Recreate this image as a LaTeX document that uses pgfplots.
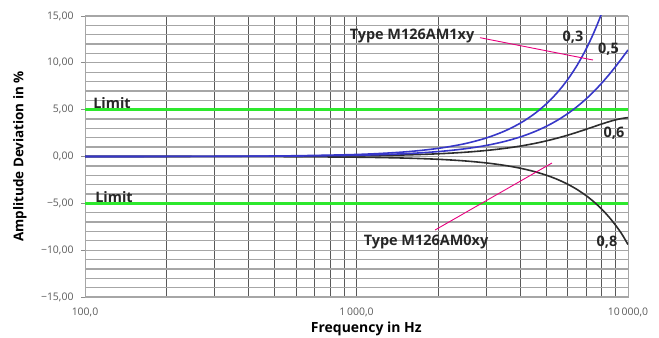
\documentclass[border=0pt]{standalone}
\usepackage{pgfplots}
\pgfplotsset{compat=1.18}
\usepackage{fontspec}
\setmainfont{Open Sans}
\definecolor{limgreen}{RGB}{45,232,45}
\definecolor{cblue}{RGB}{55,55,200}
\definecolor{cblack}{RGB}{45,45,45}
\definecolor{cpink}{RGB}{232,0,126}
\definecolor{tickgray}{RGB}{90,90,90}
\begin{document}
\begin{tikzpicture}
\path[use as bounding box] (0,0) rectangle (659bp,338bp);
\begin{axis}[
  at={(85bp,41bp)}, anchor=south west,
  width=543bp, height=281bp, scale only axis,
  xmode=log, xmin=100, xmax=10000, ymin=-15, ymax=15,
  xtick={100,1000,10000},
  xticklabels={{100,0},{1\,000,0},{10\,000,0}},
  minor xtick={200,300,400,500,600,700,800,900,2000,3000,4000,5000,6000,7000,8000,9000},
  ytick={-15,-10,-5,0,5,10,15},
  yticklabels={{−15,00},{−10,00},{−5,00},{0,00},{5,00},{10,00},{15,00}},
  minor ytick={-14,-13,-12,-11,-9,-8,-7,-6,-4,-3,-2,-1,1,2,3,4,6,7,8,9,11,12,13,14},
  xmajorgrids, xminorgrids, ymajorgrids, yminorgrids,
  major x grid style={draw=black!65, line width=0.8pt},
  minor x grid style={draw=black!65, line width=0.8pt},
  major y grid style={draw=black!35, line width=1.3pt},
  minor y grid style={draw=black!35, line width=1.3pt},
  axis line style={draw=black!35, line width=1pt},
  tick label style={font=\fontsize{10.5}{12}\selectfont, text=tickgray},
  x tick label style={yshift=-3bp},
  y tick label style={xshift=-4bp},
  ytick pos=left, xtick pos=bottom,
  tick align=outside, major tick length=4bp, minor tick length=0pt,
  xtick style={draw=none}, ytick style={draw=black!45, line width=0.8pt},
  xlabel={\textbf{Frequency in Hz}},
  ylabel={\textbf{Amplitude Deviation in \%}},
  xlabel style={font=\fontsize{14}{16}\selectfont, at={(axis description cs:0.518,-0.112)}, anchor=center},
  ylabel style={font=\fontsize{13.5}{16}\selectfont, at={(axis description cs:-0.1197,0.5)}, anchor=center},
]
\addplot[limgreen, line width=2.6pt] coordinates {(100,5) (10000,5)};
\addplot[limgreen, line width=2.6pt] coordinates {(100,-5) (10000,-5)};
% zeta = 0.8
\addplot[cblack, line width=1.6pt, smooth] coordinates {
(100,0) (200,-0.003) (500,-0.018) (1000,-0.074) (1500,-0.167) (2000,-0.299) (2500,-0.470) (3000,-0.684) (3500,-0.941) (4000,-1.243) (4500,-1.594) (5000,-1.996) (5500,-2.451) (6000,-2.962) (6500,-3.532) (7000,-4.163) (7500,-4.858) (8000,-5.618) (8500,-6.444) (9000,-7.339) (9500,-8.301) (10000,-9.40)};
% zeta = 0.6
\addplot[cblack, line width=1.6pt, smooth] coordinates {
(100,0) (200,0.003) (500,0.018) (1000,0.073) (1500,0.165) (2000,0.290) (2500,0.450) (3000,0.641) (3500,0.861) (4000,1.108) (4500,1.377) (5000,1.665) (5500,1.968) (6000,2.278) (6500,2.591) (7000,2.899) (7500,3.195) (8000,3.469) (8500,3.712) (9000,3.914) (9500,4.064) (10000,4.150)};
% zeta = 0.5
\addplot[cblue, line width=1.6pt, smooth] coordinates {
(100,0.001) (200,0.005) (500,0.033) (1000,0.131) (1500,0.295) (2000,0.525) (2500,0.818) (3000,1.176) (3500,1.596) (4000,2.078) (4500,2.620) (5000,3.220) (5500,3.875) (6000,4.582) (6500,5.337) (7000,6.135) (7500,6.969) (8000,7.832) (8500,8.715) (9000,9.609) (9500,10.500) (10000,11.374)};
% zeta = 0.3
\addplot[cblue, line width=1.6pt, smooth] coordinates {
(100,0.002) (200,0.009) (500,0.054) (1000,0.216) (1500,0.487) (2000,0.868) (2500,1.362) (3000,1.970) (3500,2.695) (4000,3.541) (4500,4.513) (5000,5.615) (5500,6.852) (6000,8.230) (6500,9.756) (7000,11.437) (7500,13.280) (8000,15.293) (8500,17.484)};
% annotations
\draw[cpink, line width=0.9pt] (rel axis cs:0.7274,0.9228) -- (rel axis cs:0.9355,0.8434);
\draw[cpink, line width=0.9pt] (rel axis cs:0.6446,0.2384) -- (rel axis cs:0.8600,0.4769);
\begin{scope}[every node/.style={font=\bfseries\fontsize{14.5}{16}\selectfont, text=black!85, inner sep=0pt}]
\node at (rel axis cs:0.6022,0.9288) {Type M126AM1xy};
\node at (rel axis cs:0.628,0.1968) {Type M126AM0xy};
\node at (rel axis cs:0.8987,0.926) {0,3};
\node at (rel axis cs:0.9641,0.8815) {0,5};
\node at (rel axis cs:0.9742,0.5826) {0,6};
\node at (rel axis cs:0.9613,0.1968) {0,8};
\node at (rel axis cs:0.0497,0.6915) {Limit};
\node at (rel axis cs:0.0534,0.3548) {Limit};
\end{scope}
\end{axis}
\end{tikzpicture}
\end{document}
